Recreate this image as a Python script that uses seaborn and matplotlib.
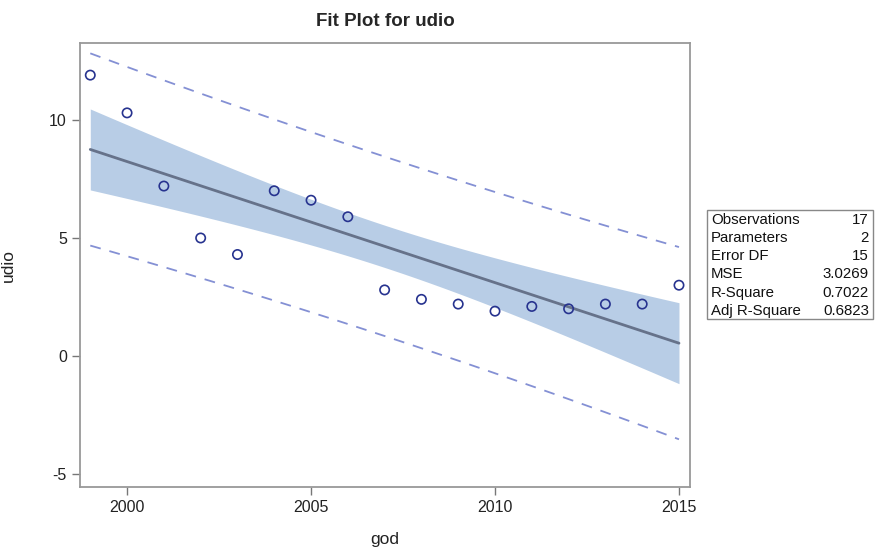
"""Fit plot for udio vs god: OLS line with 95% confidence and prediction limits."""
import matplotlib.pyplot as plt
import matplotlib.patches as mpatches
import numpy as np
import pandas as pd
import seaborn as sns

god = [1999, 2000, 2001, 2002, 2003, 2004, 2005, 2006, 2007, 2008,
       2009, 2010, 2011, 2012, 2013, 2014, 2015]
udio = [11.9, 10.3, 7.2, 5.0, 4.3, 7.0, 6.6, 5.9, 2.8, 2.4,
        2.2, 1.9, 2.1, 2.0, 2.2, 2.2, 3.0]
stat_labels = ["Observations", "Parameters", "Error DF", "MSE", "R-Square", "Adj R-Square"]
stat_values = ["17", "2", "15", "3.0269", "0.7022", "0.6823"]
t_crit = 2.131  # t(0.975, 15)


def fit(x, y):
    x = np.asarray(x, float)
    y = np.asarray(y, float)
    b1, b0 = np.polyfit(x, y, 1)
    resid = y - (b0 + b1 * x)
    mse = (resid ** 2).sum() / (len(x) - 2)
    grid = np.linspace(x.min(), x.max(), 100)
    pred = b0 + b1 * grid
    lev = 1 / len(x) + (grid - x.mean()) ** 2 / ((x - x.mean()) ** 2).sum()
    se_mean = np.sqrt(mse * lev)
    se_pred = np.sqrt(mse * (1 + lev))
    return pd.DataFrame({
        "god": grid, "fit": pred,
        "clm_lo": pred - t_crit * se_mean, "clm_hi": pred + t_crit * se_mean,
        "pi_lo": pred - t_crit * se_pred, "pi_hi": pred + t_crit * se_pred,
    })


def main() -> None:
    sns.set_theme(style="ticks")
    plt.rcParams["font.family"] = ["Liberation Sans", "DejaVu Sans"]
    plt.rcParams["axes.unicode_minus"] = False
    df = pd.DataFrame({"god": god, "udio": udio})
    f = fit(god, udio)

    fig = plt.figure(figsize=(8.75, 5.48), dpi=100)
    ax = fig.add_axes([0.0914, 0.1113, 0.6972, 0.8102])

    ax.fill_between(f["god"], f["clm_lo"], f["clm_hi"], color="#b8cde6", lw=0, zorder=1)
    sns.lineplot(data=f, x="god", y="fit", ax=ax, color="#66728a", lw=2, zorder=2)
    for col in ["pi_lo", "pi_hi"]:
        sns.lineplot(data=f, x="god", y=col, ax=ax, color="#8490d4", lw=1.3,
                     dashes=False, linestyle=(0, (6, 5)), zorder=2)
    sns.scatterplot(data=df, x="god", y="udio", ax=ax, marker="o", s=45,
                    facecolor="none", edgecolor="#27338f", linewidth=1.2, zorder=3)

    ax.set_xlim(1998.72, 2015.3)
    ax.set_ylim(-5.55, 13.26)
    ax.set_xticks([2000, 2005, 2010, 2015])
    ax.set_yticks([-5, 0, 5, 10])
    ax.tick_params(colors="#777777", labelcolor="#222222", labelsize=11.5, length=6, width=1)
    for s in ax.spines.values():
        s.set_visible(True)
        s.set_color("#999999")
        s.set_linewidth(1.3)
    ax.set_xlabel("god", fontsize=12.5, labelpad=12, color="#222222")
    ax.set_ylabel("udio", fontsize=12.5, labelpad=24, color="#222222")
    ax.set_title("Fit Plot for udio", fontsize=13.5, fontweight="bold", pad=12)

    # statistics inset
    x0, x1 = 707 / 875, 873 / 875
    y_top, y_bot = 1 - 210 / 548, 1 - 319 / 548
    fig.patches.append(mpatches.Rectangle((x0, y_bot), x1 - x0, y_top - y_bot,
                                          transform=fig.transFigure, fill=False,
                                          edgecolor="#888888", lw=1))
    row_h = (y_top - y_bot) / len(stat_labels)
    for i, (lab, val) in enumerate(zip(stat_labels, stat_values)):
        yy = y_top - row_h * (i + 0.55)
        fig.text(x0 + 4 / 875, yy, lab, ha="left", va="center", fontsize=10.8, color="#111111")
        fig.text(x1 - 4 / 875, yy, val, ha="right", va="center", fontsize=10.8, color="#111111")

    fig.savefig("out.png", dpi=100)
    plt.close(fig)


if __name__ == "__main__":
    main()
